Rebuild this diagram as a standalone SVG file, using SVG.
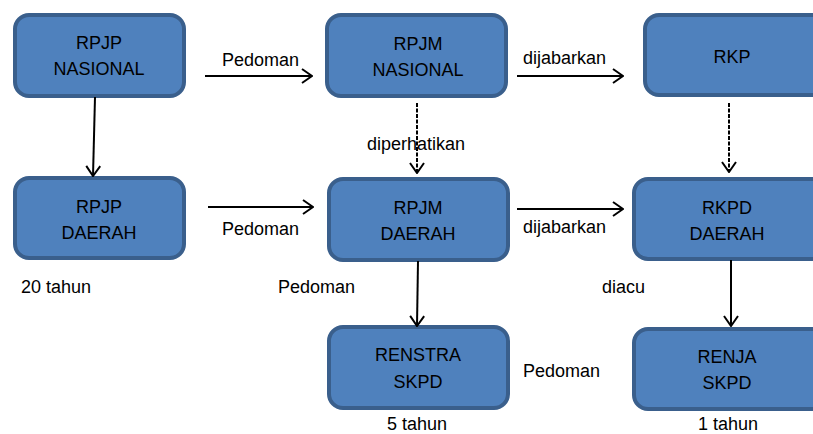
<svg xmlns="http://www.w3.org/2000/svg" width="813" height="434" viewBox="0 0 813 434">
<style>
.box{fill:#4f81bd;stroke:#3a5f8c;stroke-width:4}
.t{font-family:"Liberation Sans",Arial,sans-serif;font-size:18px;fill:#000}
.c{text-anchor:middle}
.ln{fill:none;stroke:#000;stroke-width:2}
.ds{stroke-dasharray:4,1.5}
</style>
<defs>
<marker id="ah" viewBox="0 0 12 16" refX="11" refY="8" markerWidth="12" markerHeight="16" markerUnits="userSpaceOnUse" orient="auto">
<path d="M1,1 L11,8 L1,15" fill="none" stroke="#000" stroke-width="2"/>
</marker>
</defs>
<rect width="813" height="434" fill="#fff"/>
<g id="rpjp-nasional"><rect class="box" x="15" y="15" width="169" height="81" rx="14"/><text class="t c" x="99" y="49">RPJP</text><text class="t c" x="99" y="75">NASIONAL</text></g>
<g id="rpjm-nasional"><rect class="box" x="327" y="15" width="179" height="81" rx="14"/><text class="t c" x="418" y="50">RPJM</text><text class="t c" x="418" y="76">NASIONAL</text></g>
<g id="rkp"><rect class="box" x="645" y="15" width="190" height="80" rx="14"/><text class="t c" x="732" y="63">RKP</text></g>
<g id="rpjp-daerah"><rect class="box" x="15" y="178" width="169" height="80" rx="14"/><text class="t c" x="99" y="213">RPJP</text><text class="t c" x="99" y="239">DAERAH</text></g>
<g id="rpjm-daerah"><rect class="box" x="329" y="179" width="179" height="81" rx="14"/><text class="t c" x="418" y="214">RPJM</text><text class="t c" x="418" y="240">DAERAH</text></g>
<g id="rkpd-daerah"><rect class="box" x="634" y="179" width="200" height="80" rx="14"/><text class="t c" x="727" y="214">RKPD</text><text class="t c" x="727" y="240">DAERAH</text></g>
<g id="renstra-skpd"><rect class="box" x="329" y="327" width="179" height="81" rx="14"/><text class="t c" x="418" y="361">RENSTRA</text><text class="t c" x="418" y="388">SKPD</text></g>
<g id="renja-skpd"><rect class="box" x="634" y="329" width="200" height="80" rx="14"/><text class="t c" x="727" y="363">RENJA</text><text class="t c" x="727" y="389">SKPD</text></g>
<g id="connectors">
<line class="ln" x1="205" y1="76" x2="312" y2="76" marker-end="url(#ah)"/>
<line class="ln" x1="517" y1="76" x2="623" y2="76" marker-end="url(#ah)"/>
<line class="ln" x1="95" y1="97" x2="93" y2="176" marker-end="url(#ah)"/>
<line class="ln ds" x1="417" y1="103" x2="417" y2="173" marker-end="url(#ah)"/>
<line class="ln ds" x1="729" y1="103" x2="729" y2="172" marker-end="url(#ah)"/>
<line class="ln" x1="208" y1="207" x2="313" y2="207" marker-end="url(#ah)"/>
<line class="ln" x1="517" y1="209" x2="623" y2="209" marker-end="url(#ah)"/>
<line class="ln" x1="418" y1="261" x2="417" y2="326" marker-end="url(#ah)"/>
<line class="ln" x1="731" y1="260" x2="731" y2="326" marker-end="url(#ah)"/>
</g>
<g id="labels">
<text class="t" x="222" y="66">Pedoman</text>
<text class="t" x="523" y="64">dijabarkan</text>
<text class="t" x="367" y="150">diperhatikan</text>
<text class="t" x="222" y="235">Pedoman</text>
<text class="t" x="523" y="233">dijabarkan</text>
<text class="t" x="21" y="293">20 tahun</text>
<text class="t" x="278" y="293">Pedoman</text>
<text class="t" x="602" y="293">diacu</text>
<text class="t" x="523" y="377">Pedoman</text>
<text class="t" x="387" y="430">5 tahun</text>
<text class="t" x="698" y="430">1 tahun</text>
</g>
</svg>
